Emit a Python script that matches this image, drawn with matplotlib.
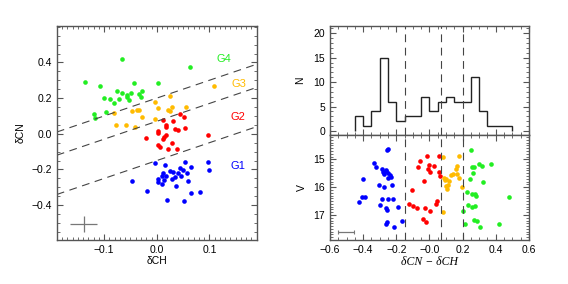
import numpy as np
import matplotlib
matplotlib.use("Agg")
import matplotlib.pyplot as plt
from matplotlib.ticker import MultipleLocator, FixedLocator, FixedFormatter

plt.rcParams['font.family'] = ['Liberation Sans', 'DejaVu Sans']
plt.rcParams['font.size'] = 7.5

# left panel: dCH, dCN per group
g1_ch = [-0.003, 0.016, 0.054, 0.097, 0.099, 0.065, 0.044, 0.049, 0.058, 0.012,
         0.025, 0.030, 0.041, 0.009, 0.017, 0.028, 0.035, 0.046, 0.014, 0.002,
         0.003, 0.010, 0.060, -0.047, 0.037, -0.019, 0.065, 0.082, 0.020, 0.051]
g1_cn = [-0.166, -0.173, -0.160, -0.160, -0.201, -0.186, -0.194, -0.205, -0.220, -0.218,
         -0.211, -0.216, -0.220, -0.238, -0.238, -0.251, -0.240, -0.235, -0.257, -0.251,
         -0.270, -0.279, -0.263, -0.263, -0.294, -0.320, -0.331, -0.328, -0.370, -0.376]
g2_ch = [0.045, 0.052, 0.011, 0.030, 0.017, 0.018, 0.035, 0.040, 0.054, 0.002,
         0.002, 0.018, 0.014, 0.012, -0.020, 0.002, 0.006, 0.028, 0.021, 0.038, 0.097]
g2_cn = [0.112, 0.093, 0.076, 0.069, 0.048, 0.036, 0.028, 0.021, 0.030, 0.018,
         0.004, -0.006, -0.017, -0.030, -0.022, -0.061, -0.073, -0.049, -0.086, -0.086, -0.007]
g3_ch = [0.108, 0.026, -0.003, 0.002, 0.021, 0.025, 0.029, 0.056, -0.047, -0.037,
         -0.033, -0.082, -0.028, -0.003, -0.078, -0.059, -0.041]
g3_cn = [0.266, 0.210, 0.179, 0.145, 0.134, 0.128, 0.149, 0.149, 0.128, 0.132,
         0.132, 0.116, 0.093, 0.084, 0.049, 0.049, 0.039]
g4_ch = [-0.067, 0.064, -0.136, -0.108, -0.044, 0.002, -0.075, -0.100, -0.089, -0.082,
         -0.071, -0.066, -0.057, -0.056, -0.052, -0.049, -0.033, -0.028, -0.030, -0.097,
         -0.120, -0.118]
g4_cn = [0.417, 0.372, 0.290, 0.268, 0.287, 0.287, 0.242, 0.199, 0.197, 0.173,
         0.194, 0.229, 0.218, 0.209, 0.188, 0.229, 0.223, 0.238, 0.205, 0.121,
         0.110, 0.086]

# group boundaries in dCN - dCH
cuts = [-0.15, 0.07, 0.20]

# histogram of dCN - dCH
hist_edges = [-0.45, -0.40, -0.35, -0.30, -0.25, -0.20, -0.15, -0.10, -0.05, 0.00,
              0.05, 0.10, 0.15, 0.20, 0.25, 0.30, 0.35, 0.40, 0.45, 0.50]
hist_counts = [3, 1, 4, 15, 6, 2, 3, 3, 7, 4, 6, 7, 6, 6, 11, 4, 1, 1, 1]

# right panel: dCN - dCH vs V
b_d = [-0.252, -0.254, -0.333, -0.321, -0.286, -0.262, -0.282, -0.272, -0.262, -0.248,
       -0.240, -0.232, -0.252, -0.402, -0.303, -0.272, -0.228, -0.409, -0.387, -0.425,
       -0.288, -0.252, -0.218, -0.300, -0.261, -0.256, -0.192, -0.258, -0.264, -0.164, -0.212]
b_v = [14.62, 14.65, 15.14, 15.29, 15.36, 15.38, 15.45, 15.53, 15.41, 15.48,
       15.56, 15.62, 15.68, 15.71, 15.91, 15.98, 15.92, 16.34, 16.36, 16.55,
       16.41, 16.41, 16.43, 16.64, 16.74, 16.81, 16.73, 17.26, 17.31, 17.23, 17.44]
r_d = [-0.017, 0.059, -0.059, -0.068, -0.005, 0.027, -0.007, 0.003, 0.059, 0.063,
       -0.031, -0.107, -0.125, -0.098, -0.077, -0.025, 0.005, 0.043, 0.037, -0.041, -0.021]
r_v = [14.88, 14.87, 15.05, 15.26, 15.20, 15.24, 15.36, 15.44, 15.44, 15.60,
       15.77, 16.12, 16.60, 16.66, 16.74, 16.74, 16.84, 16.48, 16.61, 17.14, 17.24]
o_d = [0.083, 0.178, 0.168, 0.158, 0.144, 0.164, 0.128, 0.089, 0.101, 0.119,
       0.178, 0.110, 0.098, 0.194, 0.083, 0.092, 0.106]
o_v = [14.91, 14.88, 15.24, 15.36, 15.53, 15.53, 15.58, 15.68, 15.72, 15.77,
       15.68, 15.92, 15.95, 16.01, 16.91, 15.74, 16.05]
gr_d = [0.250, 0.258, 0.270, 0.300, 0.315, 0.373, 0.262, 0.244, 0.325, 0.478,
        0.226, 0.258, 0.274, 0.283, 0.234, 0.255, 0.274, 0.200, 0.270, 0.290,
        0.214, 0.305, 0.421]
gr_v = [14.67, 15.28, 15.26, 15.17, 15.24, 15.17, 15.50, 15.72, 15.80, 16.36,
        16.19, 16.25, 16.25, 16.30, 16.64, 16.70, 16.66, 16.85, 17.17, 17.22,
        17.33, 17.43, 17.32]

c_blue = '#0000ff'
c_red = '#ff0000'
c_orange = '#ffbb00'
c_green = '#22ee22'
spine_c = '#555555'
ms = 11


def idl_axes(ax):
    for s in ax.spines.values():
        s.set_color(spine_c)
        s.set_linewidth(1.0)
    ax.tick_params(which='both', direction='in', top=True, right=True, color=spine_c,
                   labelcolor='black')
    ax.tick_params(which='major', length=4.5, width=0.8)
    ax.tick_params(which='minor', length=2.2, width=0.6)


def fmt1(v, p):
    return f'{v:.1f}'.replace('-0.0', '0.0').replace('-', '\u2212')


fig = plt.figure(figsize=(5.68, 2.84), dpi=100)

# left panel
ax1 = fig.add_axes([0.100, 0.155, 0.352, 0.754])
ax1.scatter(g4_ch, g4_cn, s=ms, color=c_green, lw=0)
ax1.scatter(g3_ch, g3_cn, s=ms, color=c_orange, lw=0)
ax1.scatter(g2_ch, g2_cn, s=ms, color=c_red, lw=0)
ax1.scatter(g1_ch, g1_cn, s=ms, color=c_blue, lw=0)
xx = np.array([-0.19, 0.19])
for c in cuts:
    ax1.plot(xx, xx + c, color='#444444', lw=0.8, dashes=(7, 5))
ax1.errorbar([-0.139], [-0.506], xerr=[0.025], yerr=[0.043], color='#777777',
             lw=0.9, capsize=0)
ax1.text(0.113, 0.417, 'G4', color=c_green, fontsize=8, va='center')
ax1.text(0.142, 0.278, 'G3', color=c_orange, fontsize=8, va='center')
ax1.text(0.141, 0.096, 'G2', color=c_red, fontsize=8, va='center')
ax1.text(0.140, -0.178, 'G1', color=c_blue, fontsize=8, va='center')
ax1.set_xlim(-0.19, 0.19)
ax1.set_ylim(-0.595, 0.605)
ax1.xaxis.set_major_locator(MultipleLocator(0.1))
ax1.xaxis.set_minor_locator(MultipleLocator(0.01))
ax1.yaxis.set_major_locator(FixedLocator([-0.4, -0.2, 0.0, 0.2, 0.4]))
ax1.yaxis.set_minor_locator(MultipleLocator(0.05))
ax1.xaxis.set_major_formatter(plt.FuncFormatter(fmt1))
ax1.yaxis.set_major_formatter(plt.FuncFormatter(fmt1))
ax1.set_xlabel('δCH', labelpad=1)
ax1.set_ylabel('δCN', labelpad=4)
idl_axes(ax1)

# histogram panel
ax2 = fig.add_axes([0.581, 0.525, 0.350, 0.384])
ax2.stairs(hist_counts, hist_edges, color='#222222', lw=1.0, baseline=0)
for c in cuts:
    ax2.axvline(c, color='#444444', lw=0.8, dashes=(7, 5))
ax2.set_xlim(-0.6, 0.6)
ax2.set_ylim(-0.8, 21.5)
ax2.xaxis.set_major_locator(MultipleLocator(0.2))
ax2.xaxis.set_minor_locator(MultipleLocator(0.05))
ax2.yaxis.set_major_locator(MultipleLocator(5))
ax2.yaxis.set_minor_locator(MultipleLocator(1))
ax2.set_xticklabels([])
ax2.set_ylabel('N', labelpad=6)
idl_axes(ax2)

# V vs dCN - dCH panel
ax3 = fig.add_axes([0.581, 0.155, 0.350, 0.370])
ax3.scatter(b_d, b_v, s=ms, color=c_blue, lw=0)
ax3.scatter(r_d, r_v, s=ms, color=c_red, lw=0)
ax3.scatter(o_d, o_v, s=ms, color=c_orange, lw=0)
ax3.scatter(gr_d, gr_v, s=ms, color=c_green, lw=0)
for c in cuts:
    ax3.axvline(c, color='#444444', lw=0.8, dashes=(7, 5))
ax3.errorbar([-0.503], [17.61], xerr=[0.047], color='#777777', lw=0.9,
             capsize=1.5, capthick=0.8)
ax3.set_xlim(-0.6, 0.6)
ax3.set_ylim(17.9, 14.12)
xt = [-0.6, -0.4, -0.2, 0.0, 0.2, 0.4, 0.6]
ax3.xaxis.set_major_locator(FixedLocator(xt))
ax3.xaxis.set_major_formatter(FixedFormatter(['\u22120.6', '\u22120.4', '\u22120.2', '\u22120.0',
                                              '0.2', '0.4', '0.6']))
ax3.xaxis.set_minor_locator(MultipleLocator(0.05))
ax3.yaxis.set_major_locator(MultipleLocator(1))
ax3.yaxis.set_minor_locator(MultipleLocator(0.1))
ax3.set_xlabel('δCN − δCH', family=['Liberation Serif', 'DejaVu Serif'],
               style='italic', fontsize=8.5, labelpad=1)
ax3.set_ylabel('V', labelpad=5)
idl_axes(ax3)

fig.savefig('out.png', dpi=100)
